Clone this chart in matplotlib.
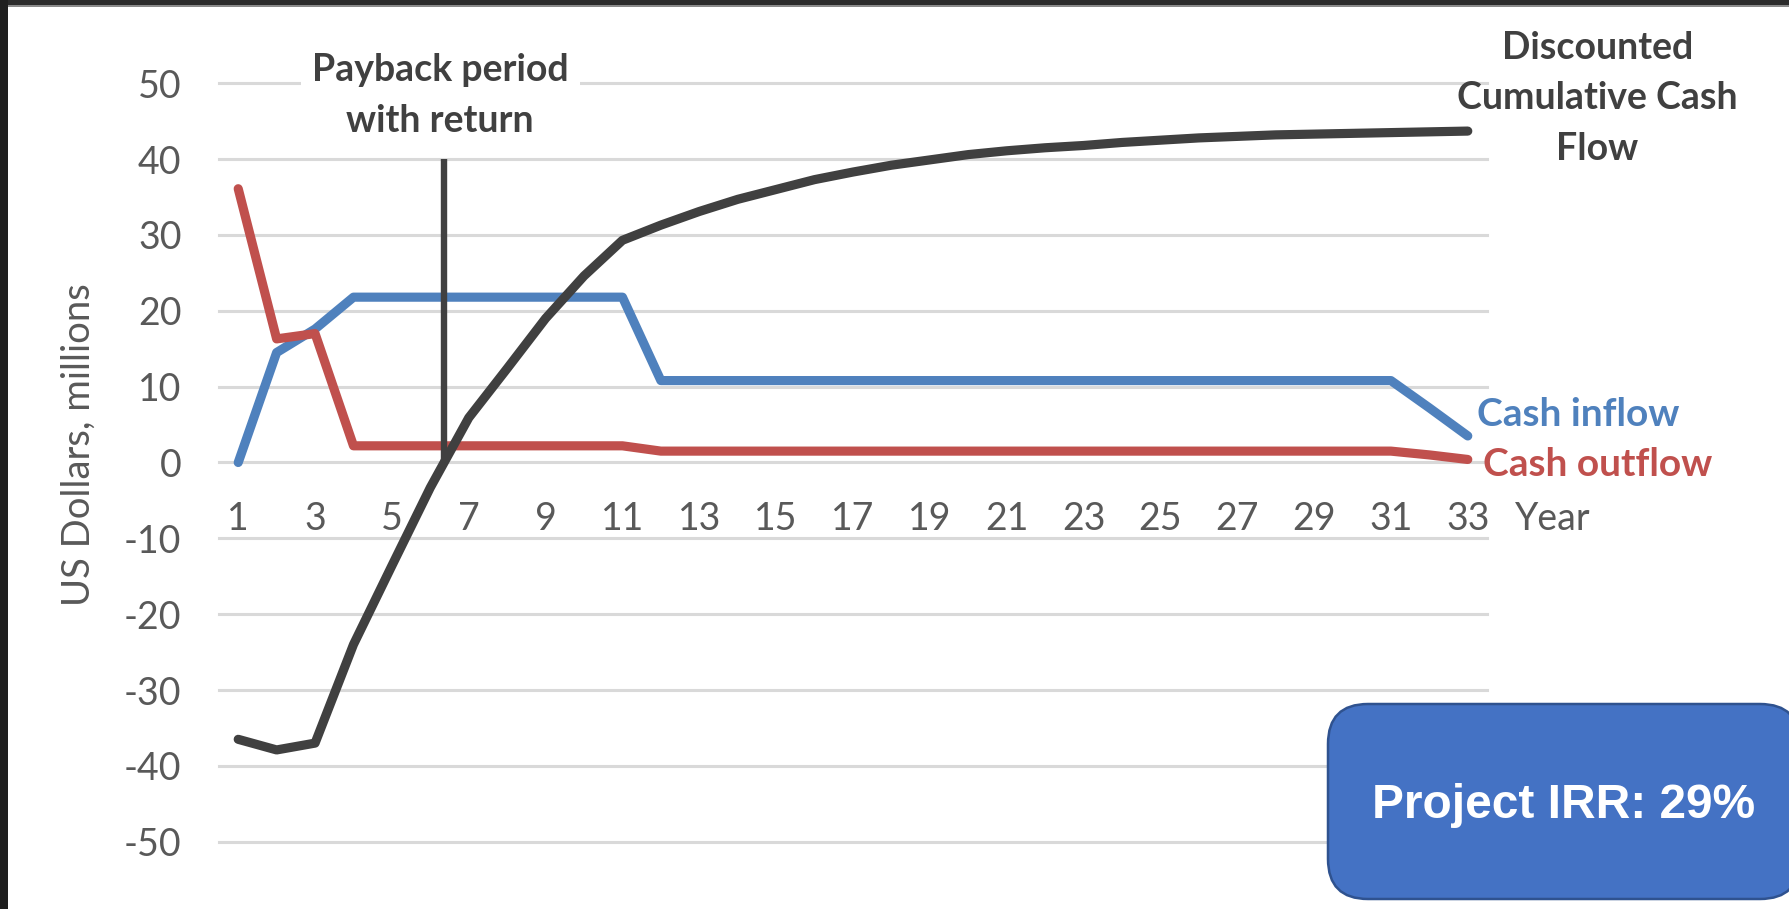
import numpy as np
import matplotlib
matplotlib.use("Agg")
import matplotlib.pyplot as plt
from matplotlib.patches import FancyBboxPatch, Rectangle

# ---- data (US$ millions by project year) ----
years = list(range(1, 34))
cash_inflow = [0.0, 14.5, 17.6, 21.8, 21.8, 21.8, 21.8, 21.8, 21.8, 21.8, 21.8,
               10.8, 10.8, 10.8, 10.8, 10.8, 10.8, 10.8, 10.8, 10.8, 10.8,
               10.8, 10.8, 10.8, 10.8, 10.8, 10.8, 10.8, 10.8, 10.8, 10.8,
               7.2, 3.5]
cash_outflow = [36.1, 16.3, 17.0, 2.2, 2.2, 2.2, 2.2, 2.2, 2.2, 2.2, 2.2,
                1.5, 1.5, 1.5, 1.5, 1.5, 1.5, 1.5, 1.5, 1.5, 1.5,
                1.5, 1.5, 1.5, 1.5, 1.5, 1.5, 1.5, 1.5, 1.5, 1.5,
                1.0, 0.4]
discounted_cumulative = [-36.5, -37.9, -37.0, -24.0, -13.6, -3.3, 5.9, 12.4, 19.0,
                         24.6, 29.3, 31.3, 33.1, 34.7, 36.0, 37.3, 38.3, 39.2, 39.9,
                         40.6, 41.1, 41.5, 41.8, 42.2, 42.5, 42.8, 43.0, 43.2, 43.3,
                         43.4, 43.5, 43.6, 43.7]
x_ticks = list(range(1, 34, 2))
y_ticks = list(range(-50, 51, 10))
irr_text = "Project IRR: 29%"

# payback year: where the discounted cumulative cash flow crosses zero
payback_year = float(np.interp(0.0, discounted_cumulative[3:8], years[3:8]))

# ---- styling ----
plt.rcParams["font.family"] = ["Lato", "DejaVu Sans"]
plt.rcParams["axes.unicode_minus"] = False
GRAY_TXT = "#595959"
DARK = "#404040"
BLUE = "#4F81BD"
RED = "#C0504D"
TICK_FS = 27
LABEL_FS = 27.5

W, H, DPI = 1789, 909, 100
fig = plt.figure(figsize=(W / DPI, H / DPI), dpi=DPI)
fig.patch.set_facecolor("white")

# pixel canvas behind everything: dark slide frame
bg = fig.add_axes([0, 0, 1, 1], zorder=0)
bg.set_xlim(0, W)
bg.set_ylim(H, 0)
bg.axis("off")
bg.add_patch(Rectangle((0, 0), W, 5, color="#2b2b2b", lw=0))
bg.add_patch(Rectangle((0, 5), W, 1.5, color="#8a8a8a", lw=0))
bg.add_patch(Rectangle((0, 0), 8, H, color="#1f1f1f", lw=0))

# main chart
ax_l, ax_r, ax_t, ax_b = 219, 1487, 83.3, 841.7
ax = fig.add_axes([ax_l / W, 1 - ax_b / H, (ax_r - ax_l) / W, (ax_b - ax_t) / H], zorder=1)
ax.patch.set_alpha(0)
ax.set_xlim(0.5, 33.5)
ax.set_ylim(-50, 50)

for s in ax.spines.values():
    s.set_visible(False)
ax.spines["bottom"].set_position(("data", 0))

ax.set_xticks(x_ticks)
ax.set_yticks(y_ticks)
ax.tick_params(axis="both", length=0, labelsize=TICK_FS, labelcolor=GRAY_TXT)
ax.tick_params(axis="y", pad=27)
ax.tick_params(axis="x", pad=28)
ax.yaxis.grid(True, color="#d9d9d9", lw=2.2)
ax.xaxis.grid(False)
ax.set_axisbelow(True)
for gl in ax.get_ygridlines():
    gl.set_clip_on(False)

ax.set_ylabel("US Dollars, millions", fontsize=LABEL_FS, color=GRAY_TXT, va="center")
ax.yaxis.set_label_coords(-0.111, 0.523)

line_kw = dict(lw=6.6, solid_capstyle="round", solid_joinstyle="round", clip_on=False)
ax.plot(years, cash_inflow, color=BLUE, zorder=3, **line_kw)
ax.plot(years, cash_outflow, color=RED, zorder=4, **line_kw)
ax.plot(years, discounted_cumulative, color=DARK, zorder=5, **line_kw)

# payback marker
ax.vlines(payback_year, 0, 40, color=DARK, lw=4.6, zorder=6)
ax.text(payback_year - 0.1, 48.4, "Payback period\nwith return", ha="center", va="center",
        fontsize=27, fontweight="bold", color=DARK, linespacing=1.6, zorder=7,
        clip_on=False,
        bbox=dict(boxstyle="square,pad=0.3", facecolor="white", edgecolor="none"))

# series labels
ax.text(36.37, 48.0, "Discounted\nCumulative Cash\nFlow", ha="center", va="center",
        fontsize=27, fontweight="bold", color=DARK, linespacing=1.6, clip_on=False)
ax.text(33.24, 6.3, "Cash inflow", ha="left", va="center", fontsize=28,
        fontweight="bold", color=BLUE, clip_on=False)
ax.text(33.40, -0.2, "Cash outflow", ha="left", va="center", fontsize=28,
        fontweight="bold", color=RED, clip_on=False)
ax.text(34.23, -7.45, "Year", ha="left", va="center", fontsize=TICK_FS,
        color=GRAY_TXT, clip_on=False)

# IRR callout on top of the chart
top = fig.add_axes([0, 0, 1, 1], zorder=3)
top.set_xlim(0, W)
top.set_ylim(H, 0)
top.axis("off")
top.patch.set_alpha(0)
top.add_patch(FancyBboxPatch((1328, 704), 472, 195,
                             boxstyle="round,pad=0,rounding_size=40",
                             facecolor="#4472C4", edgecolor="#2F528F", lw=1.8))
top.text(1564, 806, irr_text, ha="center", va="center", fontsize=34.5,
         fontweight="bold", color="white", family=["Liberation Sans", "DejaVu Sans"])

fig.savefig("out.png", dpi=DPI, facecolor="white")
